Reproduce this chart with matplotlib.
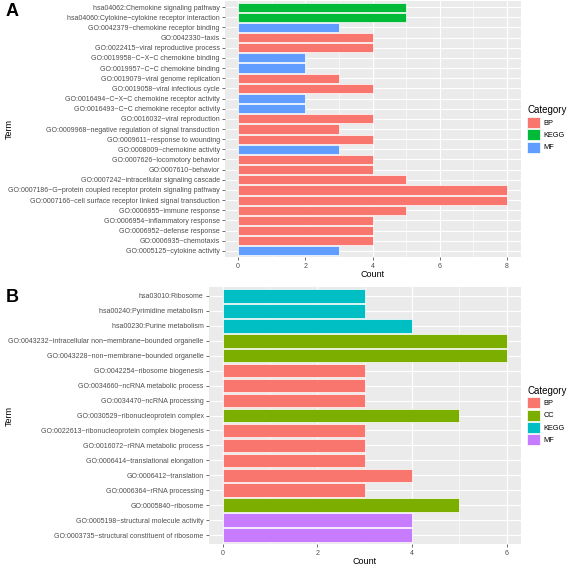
import matplotlib
matplotlib.use("Agg")
import matplotlib.pyplot as plt
from matplotlib.patches import Patch
from matplotlib.ticker import MultipleLocator

plt.rcParams['font.family'] = ['Liberation Sans', 'DejaVu Sans']

M = "\u2212"
# Panel A (top to bottom)
terms_a = [
    "hsa04062:Chemokine signaling pathway",
    f"hsa04060:Cytokine{M}cytokine receptor interaction",
    "GO:0042379~chemokine receptor binding",
    "GO:0042330~taxis",
    "GO:0022415~viral reproductive process",
    f"GO:0019958~C{M}X{M}C chemokine binding",
    f"GO:0019957~C{M}C chemokine binding",
    "GO:0019079~viral genome replication",
    "GO:0019058~viral infectious cycle",
    f"GO:0016494~C{M}X{M}C chemokine receptor activity",
    f"GO:0016493~C{M}C chemokine receptor activity",
    "GO:0016032~viral reproduction",
    "GO:0009968~negative regulation of signal transduction",
    "GO:0009611~response to wounding",
    "GO:0008009~chemokine activity",
    "GO:0007626~locomotory behavior",
    "GO:0007610~behavior",
    "GO:0007242~intracellular signaling cascade",
    f"GO:0007186~G{M}protein coupled receptor protein signaling pathway",
    "GO:0007166~cell surface receptor linked signal transduction",
    "GO:0006955~immune response",
    "GO:0006954~inflammatory response",
    "GO:0006952~defense response",
    "GO:0006935~chemotaxis",
    "GO:0005125~cytokine activity",
]
counts_a = [5, 5, 3, 4, 4, 2, 2, 3, 4, 2, 2, 4, 3, 4, 3, 4, 4, 5, 8, 8, 5, 4, 4, 4, 3]
cats_a = ["KEGG", "KEGG", "MF", "BP", "BP", "MF", "MF", "BP", "BP", "MF", "MF", "BP", "BP",
          "BP", "MF", "BP", "BP", "BP", "BP", "BP", "BP", "BP", "BP", "BP", "MF"]
colors_a = {"BP": "#F8766D", "KEGG": "#00BA38", "MF": "#619CFF"}

# Panel B (top to bottom)
terms_b = [
    "hsa03010:Ribosome",
    "hsa00240:Pyrimidine metabolism",
    "hsa00230:Purine metabolism",
    f"GO:0043232~intracellular non{M}membrane{M}bounded organelle",
    f"GO:0043228~non{M}membrane{M}bounded organelle",
    "GO:0042254~ribosome biogenesis",
    "GO:0034660~ncRNA metabolic process",
    "GO:0034470~ncRNA processing",
    "GO:0030529~ribonucleoprotein complex",
    "GO:0022613~ribonucleoprotein complex biogenesis",
    "GO:0016072~rRNA metabolic process",
    "GO:0006414~translational elongation",
    "GO:0006412~translation",
    "GO:0006364~rRNA processing",
    "GO:0005840~ribosome",
    "GO:0005198~structural molecule activity",
    "GO:0003735~structural constituent of ribosome",
]
counts_b = [3, 3, 4, 6, 6, 3, 3, 3, 5, 3, 3, 3, 4, 3, 5, 4, 4]
cats_b = ["KEGG", "KEGG", "KEGG", "CC", "CC", "BP", "BP", "BP", "CC", "BP", "BP", "BP", "BP",
          "BP", "CC", "MF", "MF"]
colors_b = {"BP": "#F8766D", "CC": "#7CAE00", "KEGG": "#00BFC4", "MF": "#C77CFF"}

W, H = 567, 566
fig = plt.figure(figsize=(W / 100, H / 100), dpi=100)


def panel(rect, terms, counts, cats, cmap, xmax, letter, letter_y):
    l, t, r, b = rect
    ax = fig.add_axes([l / W, 1 - b / H, (r - l) / W, (b - t) / H])
    ax.set_facecolor("#EBEBEB")
    n = len(terms)
    ys = list(range(n - 1, -1, -1))
    ax.barh(ys, counts, height=0.9, color=[cmap[c] for c in cats],
            edgecolor="#FFFFFF", linewidth=0.5, zorder=3)
    ax.set_yticks(ys)
    ax.set_yticklabels(terms, fontsize=5, color="#4D4D4D")
    ax.set_ylim(-0.6, n - 0.4)
    ax.set_xlim(-0.05 * xmax, xmax * 1.05)
    ax.xaxis.set_major_locator(MultipleLocator(2))
    ax.xaxis.set_minor_locator(MultipleLocator(1))
    ax.tick_params(axis="x", labelsize=5, labelcolor="#4D4D4D", length=2, width=0.5,
                   color="#333333", pad=2)
    ax.tick_params(axis="y", length=2, width=0.5, color="#333333", pad=1.5)
    ax.tick_params(axis="x", which="minor", length=0)
    ax.grid(True, which="major", color="white", linewidth=0.8, zorder=0)
    ax.grid(True, which="minor", axis="x", color="white", linewidth=0.4, zorder=0)
    ax.set_axisbelow(True)
    for s in ax.spines.values():
        s.set_visible(False)
    ax.set_xlabel("Count", fontsize=6.5, labelpad=0.5)
    fig.text(5 / W, 1 - ((t + b) / 2) / H, "Term", rotation=90, fontsize=6.5,
             va="center", ha="left")
    fig.text(6 / W, 1 - letter_y / H, letter, fontsize=13, fontweight="bold",
             va="center", ha="left")
    handles = [Patch(facecolor=cmap[k], edgecolor="#FFFFFF", linewidth=0.5, label=k)
               for k in cmap]
    leg = fig.legend(handles=handles, title="Category", loc="center left",
                     bbox_to_anchor=(525 / W, 1 - ((t + b) / 2) / H),
                     bbox_transform=fig.transFigure, frameon=False, fontsize=5.3,
                     title_fontsize=7, handlelength=1.8, handleheight=1.9,
                     handletextpad=0.45, labelspacing=0.2, borderaxespad=0,
                     borderpad=0.3)
    leg._legend_box.align = "left"
    return ax


panel((224.6, 1, 520.5, 257), terms_a, counts_a, cats_a, colors_a, 8, "A", 12)
panel((208.5, 287, 520.9, 544), terms_b, counts_b, cats_b, colors_b, 6, "B", 298)

fig.savefig("out.png", dpi=100)
